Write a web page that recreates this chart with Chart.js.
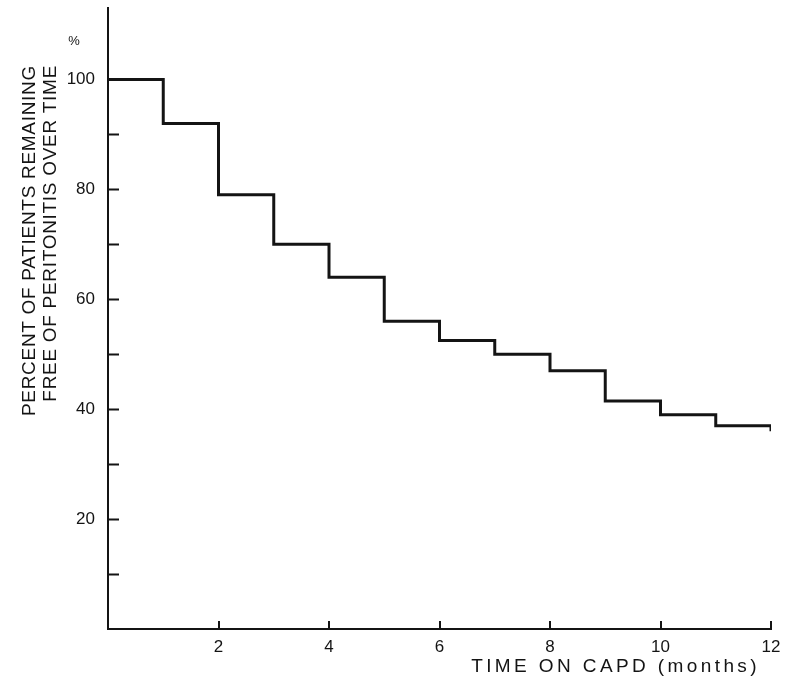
<!DOCTYPE html>
<html>
<head>
<meta charset="utf-8">
<script src="https://cdn.jsdelivr.net/npm/chart.js@4/dist/chart.umd.min.js"></script>
<style>
  html, body { margin: 0; padding: 0; background: #ffffff; }
  #wrap { width: 786px; height: 681px; }
</style>
</head>
<body>
<div id="wrap"><canvas id="c" width="786" height="681"></canvas></div>
<script>
// Kaplan-Meier style curve: share of patients still free of peritonitis
const months = [0, 1, 2, 3, 4, 5, 6, 7, 8, 9, 10, 11, 12];
const percentFree = [100, 92, 79, 70, 64, 56, 52.5, 50, 47, 41.5, 39, 37, 36];

// axis labelling
const xTickLabels = [2, 4, 6, 8, 10, 12];
const yTickLabels = [20, 40, 60, 80, 100];
const yTickMarks = [10, 20, 30, 40, 50, 60, 70, 80, 90, 100];
const xTitle = 'TIME ON CAPD (months)';
const yTitleLines = ['PERCENT OF PATIENTS REMAINING', 'FREE OF PERITONITIS OVER TIME'];
const unitLabel = '%';

const INK = '#141414';
const FONT = 'Liberation Sans, Arial, sans-serif';

// short tick marks pointing into the plot, plus axis titles
const axisDecor = {
  id: 'axisDecor',
  afterDraw(chart) {
    const { ctx, chartArea, scales } = chart;
    ctx.save();
    ctx.strokeStyle = INK;
    ctx.lineWidth = 2;
    ctx.beginPath();
    yTickMarks.forEach(v => {
      const y = Math.round(scales.y.getPixelForValue(v)) + 0.5;
      ctx.moveTo(chartArea.left, y);
      ctx.lineTo(chartArea.left + 11, y);
    });
    xTickLabels.forEach(v => {
      const x = Math.round(scales.x.getPixelForValue(v));
      ctx.moveTo(x, chartArea.bottom);
      ctx.lineTo(x, chartArea.bottom - 8);
    });
    ctx.stroke();

    ctx.fillStyle = INK;
    // y title, two lines reading upward, ends aligned at the top
    ctx.font = '19px ' + FONT;
    ctx.letterSpacing = '0.7px';
    ctx.textAlign = 'right';
    ctx.textBaseline = 'alphabetic';
    const yBase = [35, 56];
    yTitleLines.forEach((line, i) => {
      ctx.save();
      ctx.translate(yBase[i], 65);
      ctx.rotate(-Math.PI / 2);
      ctx.fillText(line, 0, 0);
      ctx.restore();
    });

    // x title
    ctx.font = '19px ' + FONT;
    ctx.letterSpacing = '3.4px';
    ctx.textAlign = 'right';
    ctx.fillText(xTitle, 760, 672);

    // unit mark above the y labels
    ctx.letterSpacing = '0px';
    ctx.font = '13px ' + FONT;
    ctx.textAlign = 'center';
    ctx.fillText(unitLabel, 74, 45);
    ctx.restore();
  }
};

function noEdgePadding(scale) {
  scale.paddingTop = 0;
  scale.paddingBottom = 0;
  scale.paddingLeft = 0;
  scale.paddingRight = 0;
}

new Chart(document.getElementById('c'), {
  type: 'line',
  data: {
    datasets: [{
      data: months.map((m, i) => ({ x: m, y: percentFree[i] })),
      borderColor: INK,
      borderWidth: 3,
      pointRadius: 0,
      stepped: 'before',
      fill: false
    }]
  },
  options: {
    responsive: false,
    animation: false,
    devicePixelRatio: 1,
    layout: { padding: { left: 0, right: 15, top: 8, bottom: 0 } },
    plugins: { legend: { display: false }, tooltip: { enabled: false } },
    scales: {
      x: {
        type: 'linear',
        min: 0,
        max: 12,
        afterFit(scale) { scale.height = 52; noEdgePadding(scale); },
        grid: { display: false, drawTicks: false },
        border: { display: true, color: INK, width: 2 },
        ticks: {
          stepSize: 2,
          autoSkip: false,
          maxRotation: 0,
          padding: 8,
          color: INK,
          font: { family: FONT, size: 17 },
          callback: v => xTickLabels.includes(v) ? String(v) : ''
        }
      },
      y: {
        min: 0,
        max: 113,
        afterFit(scale) { scale.width = 108; noEdgePadding(scale); },
        grid: { display: false, drawTicks: false },
        border: { display: true, color: INK, width: 2 },
        ticks: {
          stepSize: 10,
          autoSkip: false,
          padding: 13,
          color: INK,
          font: { family: FONT, size: 17 },
          callback: v => yTickLabels.includes(v) ? String(v) : ''
        }
      }
    }
  },
  plugins: [axisDecor]
});
</script>
</body>
</html>
